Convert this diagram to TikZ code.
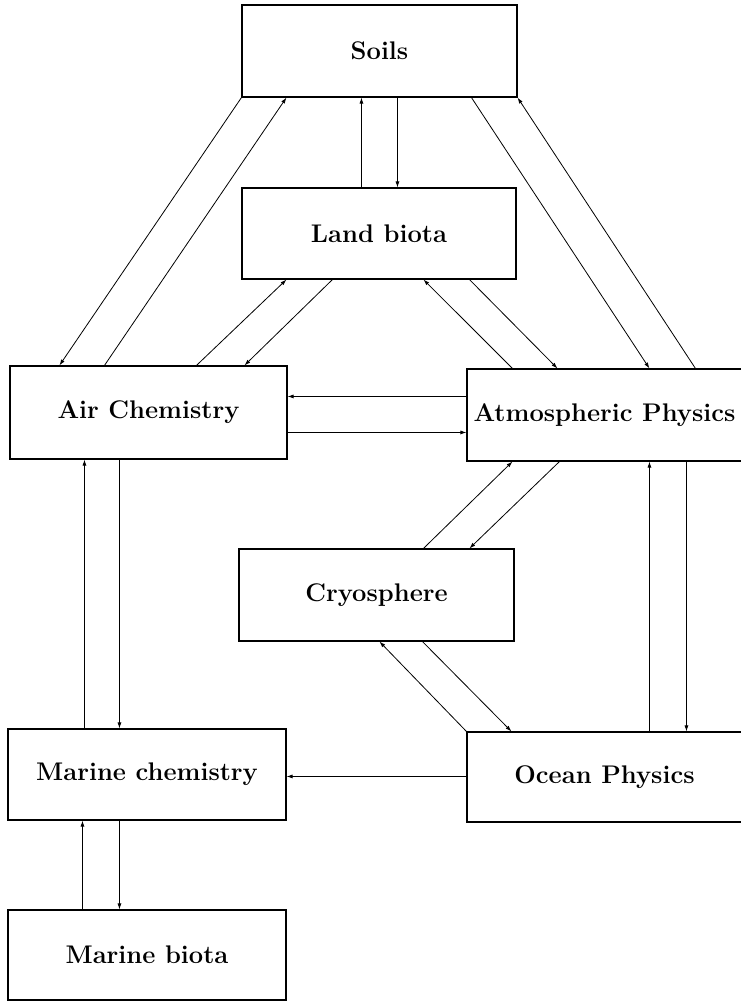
\documentclass[tikz,border=0pt]{standalone}
\usetikzlibrary{arrows.meta}
\begin{document}
\begin{tikzpicture}[x=1pt,y=-1pt,
  box/.style={draw, line width=1.1pt, rectangle, inner sep=0pt, font=\fontsize{25.5}{30}\selectfont\bfseries},
  arr/.style={line width=0.8pt, -{Latex[length=6pt,width=4pt]}}]
\useasboundingbox (0,0) rectangle (740,1002);
\node[box, minimum width=275pt, minimum height=92pt] (soils) at (379.5,51) {Soils};
\node[box, minimum width=274pt, minimum height=91pt] (land) at (379,233.5) {Land biota};
\node[box, minimum width=277pt, minimum height=93pt] (air) at (148.5,412.5) {Air Chemistry};
\node[box, minimum width=275pt, minimum height=92pt] (atm) at (604.5,415) {Atmospheric Physics};
\node[box, minimum width=275pt, minimum height=92pt] (cryo) at (376.5,595) {Cryosphere};
\node[box, minimum width=278pt, minimum height=91pt] (mchem) at (147,774.5) {Marine chemistry};
\node[box, minimum width=275pt, minimum height=90pt] (ocean) at (604.5,777) {Ocean Physics};
\node[box, minimum width=278pt, minimum height=90pt] (mbiota) at (147,955) {Marine biota};
% Soils <-> Land biota
\draw[arr] ([xshift=120pt]land.north west) -- ([xshift=120pt]soils.south west);
\draw[arr] ([xshift=156pt]soils.south west) -- ([xshift=156pt]land.north west);
% Soils <-> Air Chemistry
\draw[arr] (soils.south west) -- ([xshift=50pt]air.north west);
\draw[arr] ([xshift=95pt]air.north west) -- ([xshift=45pt]soils.south west);
% Soils <-> Atmospheric Physics
\draw[arr] ([xshift=230pt]soils.south west) -- ([xshift=183pt]atm.north west);
\draw[arr] ([xshift=229pt]atm.north west) -- (soils.south east);
% Land biota <-> Air Chemistry
\draw[arr] ([xshift=187pt]air.north west) -- ([xshift=45pt]land.south west);
\draw[arr] ([xshift=91pt]land.south west) -- ([xshift=235pt]air.north west);
% Land biota <-> Atmospheric Physics
\draw[arr] ([xshift=228pt]land.south west) -- ([xshift=91pt]atm.north west);
\draw[arr] ([xshift=46pt]atm.north west) -- ([xshift=182pt]land.south west);
% Atmospheric Physics <-> Air Chemistry
\draw[arr] ([yshift=-28pt]atm.north west) -- ([yshift=-31pt]air.north east);
\draw[arr] ([yshift=-67pt]air.north east) -- ([yshift=-64pt]atm.north west);
% Air Chemistry <-> Marine chemistry
\draw[arr] ([xshift=77pt]mchem.north west) -- ([xshift=75pt]air.south west);
\draw[arr] ([xshift=110pt]air.south west) -- ([xshift=112pt]mchem.north west);
% Cryosphere <-> Atmospheric Physics
\draw[arr] ([xshift=185pt]cryo.north west) -- ([xshift=46pt]atm.south west);
\draw[arr] ([xshift=93pt]atm.south west) -- ([xshift=231pt]cryo.north west);
% Ocean Physics <-> Atmospheric Physics
\draw[arr] ([xshift=183pt]ocean.north west) -- ([xshift=183pt]atm.south west);
\draw[arr] ([xshift=220pt]atm.south west) -- ([xshift=220pt]ocean.north west);
% Ocean Physics <-> Cryosphere
\draw[arr] (ocean.north west) -- ([xshift=141pt]cryo.south west);
\draw[arr] ([xshift=184pt]cryo.south west) -- ([xshift=45pt]ocean.north west);
% Ocean Physics -> Marine chemistry
\draw[arr] ([yshift=-45pt]ocean.north west) -- ([yshift=-48pt]mchem.north east);
% Marine chemistry <-> Marine biota
\draw[arr] ([xshift=75pt]mbiota.north west) -- ([xshift=75pt]mchem.south west);
\draw[arr] ([xshift=112pt]mchem.south west) -- ([xshift=112pt]mbiota.north west);
\end{tikzpicture}
\end{document}
